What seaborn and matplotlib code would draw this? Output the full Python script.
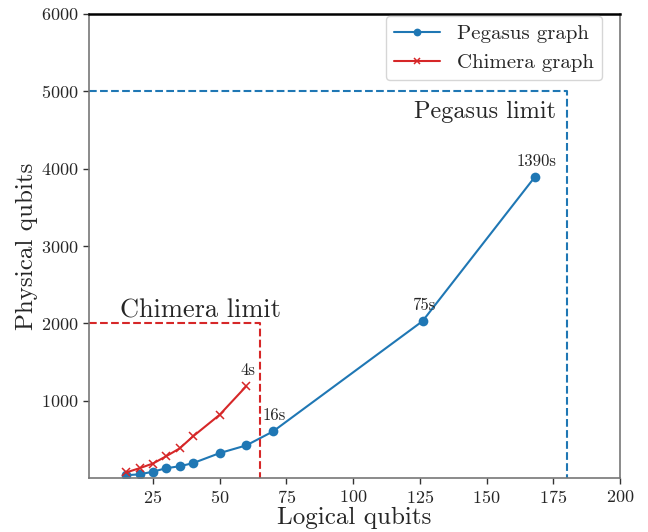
import matplotlib
matplotlib.use("Agg")
import matplotlib.pyplot as plt
import seaborn as sns

# Values
pegasus_logical = [15, 20, 25, 30, 35, 40, 50, 60, 70, 126, 168]
pegasus_physical = [40, 50, 85, 130, 155, 195, 325, 425, 605, 2030, 3890]
chimera_logical = [15, 20, 25, 30, 35, 40, 50, 60]
chimera_physical = [75, 130, 190, 285, 385, 540, 820, 1190]

# run-time labels: (x, y, text)
time_labels = [(60, 1190, "4s"), (70, 605, "16s"), (126, 2030, "75s"), (168, 3890, "1390s")]

chimera_limit = (65, 2000)
pegasus_limit = (180, 5000)
x_ticks = [25, 50, 75, 100, 125, 150, 175, 200]
y_ticks = [1000, 2000, 3000, 4000, 5000, 6000]

sns.set_style("white")
plt.rcParams["font.family"] = ["cmr10", "DejaVu Serif"]
plt.rcParams["mathtext.fontset"] = "cm"
plt.rcParams["axes.formatter.use_mathtext"] = True

blue = "#1f77b4"
red = "#d62728"

fig = plt.figure(figsize=(6.48, 5.32), dpi=100)
ax = fig.add_axes([0.137, 0.101, 0.82, 0.873])

sns.lineplot(x=pegasus_logical, y=pegasus_physical, marker="o", markersize=7,
             markeredgewidth=0, markeredgecolor=blue, color=blue,
             label="Pegasus graph", ax=ax)
sns.lineplot(x=chimera_logical, y=chimera_physical, marker="x", markersize=6,
             markeredgewidth=1.1, markeredgecolor=red, color=red,
             label="Chimera graph", ax=ax)

xmin = 1
# limit boxes
cx, cy = chimera_limit
ax.plot([xmin, cx, cx], [cy, cy, 0], linestyle="--", color=red, linewidth=1.5)
px, py = pegasus_limit
ax.plot([xmin, px, px], [py, py, 0], linestyle="--", color=blue, linewidth=1.5)
ax.text(43, 2080, "Chimera limit", ha="center", va="baseline", fontsize=19)
ax.text(176, 4660, "Pegasus limit", ha="right", va="baseline", fontsize=17.5)

for x, y, t in time_labels:
    ax.annotate(t, (x, y), xytext=(1, 6), textcoords="offset points",
                ha="center", va="bottom", fontsize=12)

ax.set_xlim(xmin, 200)
ax.set_ylim(0, 6000)
ax.set_xticks(x_ticks)
ax.set_yticks(y_ticks)
ax.tick_params(axis="both", labelsize=13, length=4, width=1, direction="out",
               bottom=True, left=True, color="#333333")
ax.set_xlabel("Logical qubits", fontsize=18, labelpad=1)
ax.set_ylabel("Physical qubits", fontsize=18, labelpad=2)

for side in ["left", "bottom", "right"]:
    ax.spines[side].set_color("#777777")
    ax.spines[side].set_linewidth(1.2)
ax.spines["top"].set_color("black")
ax.spines["top"].set_linewidth(1.8)

ax.legend(loc="upper right", bbox_to_anchor=(0.97, 1.0), fontsize=15,
          frameon=True, framealpha=0.8, edgecolor="#cccccc", fancybox=True,
          handlelength=2.2, borderaxespad=0.1, markerscale=0.8)

fig.savefig("out.png", dpi=100)
